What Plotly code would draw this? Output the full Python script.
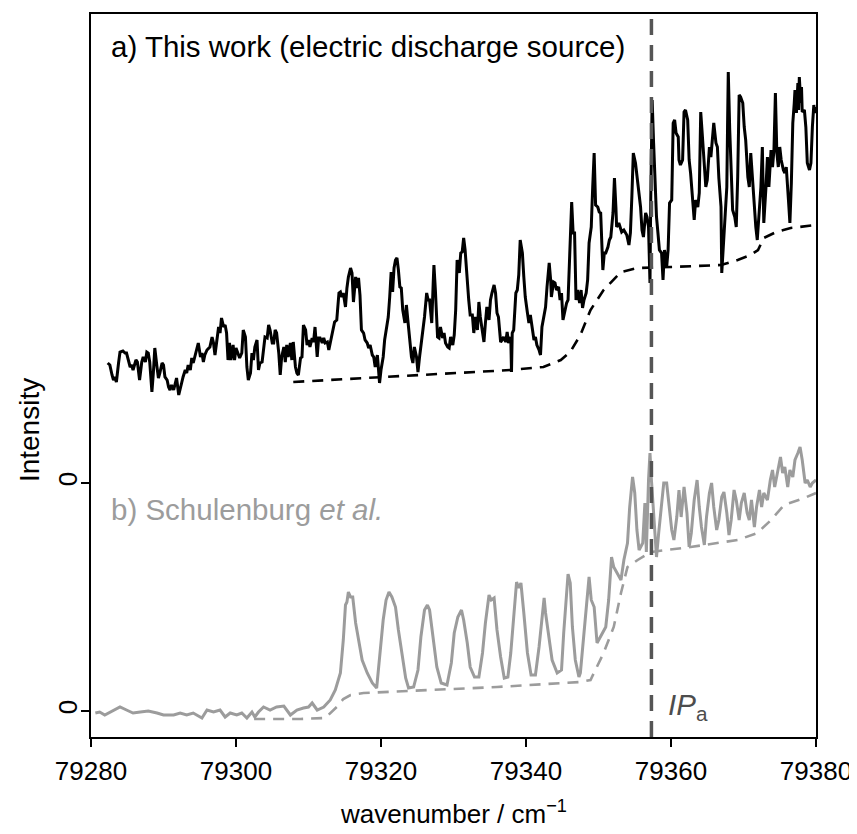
import plotly.graph_objects as go

# ---------------- data ----------------
# a) this work (intensity relative to its own zero; plotted with an offset)
wn_a = [79282.3, 79282.6, 79282.9, 79283.1, 79283.3, 79283.5, 79283.8, 79284.0, 79284.4, 79284.7,
        79284.9, 79285.2, 79285.4, 79285.6, 79285.8, 79286.2, 79286.4, 79286.7, 79287.0, 79287.2,
        79287.5, 79287.7, 79287.9, 79288.1, 79288.4, 79288.6, 79288.8, 79289.1, 79289.3, 79289.5,
        79289.8, 79290.0, 79290.2, 79290.5, 79290.7, 79290.9, 79291.1, 79291.4, 79291.6, 79291.8,
        79292.1, 79292.3, 79292.5, 79292.7, 79293.0, 79293.2, 79293.4, 79293.7, 79293.9, 79294.1,
        79294.4, 79294.6, 79294.8, 79295.1, 79295.3, 79295.5, 79295.7, 79296.0, 79296.2, 79296.4,
        79296.7, 79296.9, 79297.1, 79297.4, 79297.6, 79297.8, 79298.0, 79298.3, 79298.5, 79298.7,
        79298.9, 79299.1, 79299.3, 79299.6, 79299.8, 79300.0, 79300.3, 79300.5, 79300.8, 79301.0,
        79301.3, 79301.5, 79301.7, 79302.0, 79302.2, 79302.4, 79302.6, 79302.9, 79303.1, 79303.3,
        79303.6, 79303.8, 79304.0, 79304.3, 79304.5, 79304.7, 79305.0, 79305.2, 79305.4, 79305.6,
        79305.9, 79306.1, 79306.3, 79306.6, 79306.8, 79307.0, 79307.2, 79307.5, 79307.7, 79307.9,
        79308.2, 79308.4, 79308.6, 79308.9, 79309.1, 79309.3, 79309.6, 79309.8, 79310.0, 79310.2,
        79310.5, 79310.7, 79310.9, 79311.2, 79311.4, 79311.6, 79311.9, 79312.1, 79312.3, 79312.6,
        79312.8, 79313.0, 79313.2, 79313.6, 79313.9, 79314.2, 79314.4, 79314.6, 79314.8, 79315.1,
        79315.3, 79315.5, 79315.8, 79316.0, 79316.2, 79316.5, 79316.7, 79316.9, 79317.1, 79317.3,
        79317.6, 79317.8, 79318.1, 79318.3, 79318.5, 79318.8, 79319.0, 79319.2, 79319.5, 79319.7,
        79319.8, 79320.0, 79320.3, 79320.5, 79320.7, 79321.0, 79321.2, 79321.4, 79321.6, 79321.8,
        79322.0, 79322.2, 79322.4, 79322.6, 79322.8, 79323.0, 79323.3, 79323.5, 79323.7, 79324.0,
        79324.2, 79324.4, 79324.6, 79324.9, 79325.1, 79325.3, 79325.6, 79325.8, 79326.0, 79326.3,
        79326.5, 79326.7, 79327.0, 79327.2, 79327.3, 79327.5, 79327.8, 79328.0, 79328.2, 79328.5,
        79328.7, 79328.9, 79329.2, 79329.4, 79329.6, 79329.9, 79330.1, 79330.3, 79330.5, 79330.8,
        79331.0, 79331.2, 79331.4, 79331.6, 79331.9, 79332.1, 79332.3, 79332.6, 79332.8, 79333.0,
        79333.3, 79333.5, 79333.7, 79334.0, 79334.2, 79334.4, 79334.6, 79334.9, 79335.1, 79335.3,
        79335.6, 79335.8, 79336.0, 79336.2, 79336.5, 79336.7, 79336.9, 79337.2, 79337.4, 79337.6,
        79337.9, 79338.0, 79338.1, 79338.3, 79338.6, 79338.8, 79339.0, 79339.2, 79339.5, 79339.7,
        79339.9, 79340.2, 79340.4, 79340.6, 79340.9, 79341.1, 79341.3, 79341.5, 79341.8, 79342.0,
        79342.2, 79342.5, 79342.7, 79342.9, 79343.2, 79343.4, 79343.5, 79343.8, 79344.0, 79344.2,
        79344.5, 79344.7, 79344.9, 79345.1, 79345.4, 79345.6, 79345.8, 79346.1, 79346.3, 79346.5,
        79346.7, 79346.9, 79347.1, 79347.4, 79347.6, 79347.8, 79348.0, 79348.3, 79348.5, 79348.7,
        79349.0, 79349.2, 79349.4, 79349.6, 79349.9, 79350.1, 79350.3, 79350.6, 79350.8, 79351.0,
        79351.3, 79351.5, 79351.7, 79352.0, 79352.2, 79352.4, 79352.5, 79352.8, 79353.0, 79353.2,
        79353.5, 79353.7, 79353.9, 79354.2, 79354.4, 79354.6, 79354.8, 79355.1, 79355.3, 79355.5,
        79355.8, 79356.0, 79356.2, 79356.5, 79356.7, 79356.9, 79357.1, 79357.2, 79357.3, 79357.4,
        79357.6, 79357.8, 79358.0, 79358.2, 79358.4, 79358.7, 79358.9, 79359.1, 79359.4, 79359.6,
        79359.8, 79360.1, 79360.3, 79360.5, 79360.7, 79361.0, 79361.1, 79361.3, 79361.6, 79361.8,
        79362.0, 79362.3, 79362.5, 79362.7, 79363.0, 79363.2, 79363.4, 79363.7, 79363.9, 79364.1,
        79364.3, 79364.6, 79364.8, 79365.0, 79365.3, 79365.5, 79365.7, 79365.9, 79366.2, 79366.4,
        79366.6, 79366.9, 79367.0, 79367.2, 79367.5, 79367.7, 79367.8, 79367.9, 79368.1, 79368.3,
        79368.5, 79368.8, 79369.0, 79369.2, 79369.4, 79369.6, 79369.9, 79370.1, 79370.3, 79370.6,
        79370.8, 79371.0, 79371.2, 79371.5, 79371.7, 79371.9, 79372.2, 79372.4, 79372.6, 79372.8,
        79373.1, 79373.3, 79373.5, 79373.8, 79374.0, 79374.2, 79374.4, 79374.6, 79374.8, 79375.0,
        79375.2, 79375.5, 79375.7, 79375.9, 79376.2, 79376.4, 79376.6, 79376.8, 79377.0, 79377.1,
        79377.3, 79377.5, 79377.6, 79377.7, 79377.9, 79378.0, 79378.1, 79378.4, 79378.6, 79378.8,
        79379.1, 79379.3, 79379.5, 79379.7, 79379.8, 79380.0]
int_a = [120, 118, 108, 103, 106, 101, 120, 131, 132, 130,
         130, 123, 116, 118, 113, 123, 121, 103, 121, 126,
         121, 131, 130, 121, 91, 110, 135, 116, 105, 110,
         120, 118, 106, 103, 96, 93, 98, 93, 101, 105,
         88, 96, 100, 106, 113, 110, 118, 113, 125, 120,
         130, 136, 140, 126, 130, 121, 128, 133, 135, 136,
         146, 140, 128, 146, 156, 150, 165, 156, 158, 150,
         123, 140, 123, 138, 123, 135, 130, 125, 130, 153,
         146, 116, 103, 110, 130, 123, 136, 143, 113, 120,
         121, 136, 146, 145, 158, 153, 140, 140, 153, 150,
         130, 108, 126, 136, 121, 138, 126, 140, 123, 141,
         116, 110, 108, 125, 126, 158, 153, 138, 143, 136,
         145, 141, 156, 126, 145, 145, 140, 145, 140, 141,
         133, 140, 146, 161, 163, 190, 191, 186, 190, 176,
         195, 206, 215, 210, 181, 206, 195, 205, 188, 153,
         150, 143, 140, 135, 138, 128, 126, 116, 128, 106,
         100, 113, 126, 143, 153, 166, 186, 211, 191, 215,
         223, 225, 213, 196, 195, 173, 160, 178, 163, 140,
         126, 120, 136, 126, 111, 125, 143, 150, 166, 190,
         183, 183, 160, 200, 218, 193, 146, 145, 156, 145,
         150, 140, 136, 135, 146, 138, 148, 173, 223, 210,
         230, 231, 245, 233, 200, 183, 168, 168, 150, 166,
         153, 181, 166, 153, 141, 160, 176, 163, 183, 190,
         198, 190, 170, 166, 141, 143, 146, 141, 151, 140,
         146, 111, 150, 153, 190, 193, 208, 243, 230, 206,
         186, 170, 160, 168, 153, 143, 146, 138, 133, 128,
         156, 170, 176, 196, 220, 203, 186, 201, 200, 193,
         196, 183, 190, 163, 173, 180, 183, 236, 281, 250,
         250, 183, 193, 180, 193, 175, 183, 190, 203, 240,
         256, 296, 330, 278, 276, 271, 270, 213, 230, 230,
         236, 243, 246, 270, 305, 276, 256, 260, 256, 251,
         253, 250, 248, 238, 250, 286, 330, 320, 306, 293,
         276, 253, 246, 270, 266, 256, 200, 280, 336, 383,
         340, 306, 266, 250, 233, 230, 203, 233, 216, 233,
         280, 283, 360, 363, 350, 346, 323, 318, 323, 371,
         373, 363, 323, 310, 276, 263, 283, 276, 290, 371,
         350, 310, 296, 303, 336, 326, 340, 360, 340, 336,
         305, 276, 210, 233, 263, 296, 356, 411, 353, 316,
         273, 266, 256, 306, 388, 386, 380, 356, 343, 306,
         296, 330, 306, 270, 256, 243, 276, 296, 336, 260,
         296, 326, 296, 333, 316, 333, 390, 330, 316, 336,
         323, 313, 310, 316, 283, 260, 300, 360, 380, 393,
         370, 400, 373, 406, 380, 396, 371, 373, 356, 320,
         313, 320, 356, 378, 370, 376]

# a) fitted baseline (dashed)
wn_a_base = [79307.9, 79313.0, 79319.9, 79329.6, 79337.9, 79342.4, 79344.8, 79346.1, 79347.5, 79348.9,
             79350.7, 79353.1, 79355.4, 79360.0, 79366.9, 79369.2, 79371.0, 79372.0, 79372.8, 79374.5,
             79376.5, 79380.0]
int_a_base = [101, 103, 106, 110, 113, 116, 123, 131, 148, 173,
              193, 211, 215, 216, 218, 223, 228, 233, 245, 251,
              255, 258]

# b) Schulenburg et al.
wn_b = [79280.6, 79281.2, 79281.9, 79283.1, 79284.0, 79284.9, 79285.8, 79286.8, 79287.9, 79289.1,
        79290.0, 79291.4, 79292.3, 79293.2, 79294.1, 79295.3, 79296.0, 79296.9, 79297.8, 79298.5,
        79299.2, 79300.1, 79300.8, 79301.5, 79302.2, 79302.6, 79303.1, 79303.8, 79304.7, 79305.6,
        79306.6, 79307.5, 79308.4, 79309.3, 79310.0, 79310.5, 79311.2, 79312.1, 79313.0, 79313.7,
        79314.2, 79314.4, 79314.8, 79315.1, 79315.3, 79315.5, 79315.8, 79316.1, 79316.5, 79316.9,
        79317.4, 79318.1, 79318.8, 79319.4, 79319.8, 79320.3, 79320.7, 79321.1, 79321.5, 79322.0,
        79322.4, 79322.9, 79323.4, 79323.8, 79324.5, 79325.1, 79325.5, 79326.0, 79326.4, 79326.7,
        79327.2, 79327.7, 79328.3, 79329.1, 79329.7, 79330.1, 79330.6, 79331.1, 79331.4, 79331.9,
        79332.3, 79332.9, 79333.5, 79334.0, 79334.4, 79334.9, 79335.2, 79335.6, 79336.0, 79336.5,
        79337.0, 79337.5, 79337.9, 79338.3, 79338.7, 79339.0, 79339.3, 79339.7, 79340.2, 79340.7,
        79341.3, 79341.8, 79342.2, 79342.5, 79342.7, 79343.2, 79343.6, 79344.3, 79344.9, 79345.2,
        79345.6, 79345.8, 79346.1, 79346.4, 79346.8, 79347.3, 79347.5, 79348.0, 79348.5, 79348.7,
        79349.0, 79349.4, 79349.8, 79350.5, 79351.0, 79351.4, 79351.8, 79352.1, 79352.6, 79353.1,
        79353.5, 79354.0, 79354.3, 79354.7, 79355.0, 79355.3, 79355.6, 79356.1, 79356.4, 79356.6,
        79356.9, 79357.1, 79357.3, 79357.7, 79358.0, 79358.3, 79358.7, 79359.0, 79359.4, 79359.7,
        79360.1, 79360.4, 79360.8, 79361.1, 79361.4, 79361.8, 79362.2, 79362.5, 79362.8, 79363.2,
        79363.6, 79363.9, 79364.2, 79364.6, 79364.9, 79365.3, 79365.6, 79365.9, 79366.3, 79366.6,
        79367.0, 79367.3, 79367.7, 79368.0, 79368.3, 79368.7, 79369.0, 79369.4, 79369.7, 79370.1,
        79370.5, 79370.8, 79371.1, 79371.5, 79371.8, 79372.2, 79372.5, 79372.8, 79373.3, 79373.7,
        79374.0, 79374.3, 79374.7, 79375.1, 79375.4, 79375.7, 79376.1, 79376.4, 79376.8, 79377.1,
        79377.5, 79377.8, 79378.1, 79378.5, 79378.8, 79379.2, 79379.5, 79380.0]
int_b = [-2, -1, -4, 1, 4, 1, -2, -1, 0, -2,
         -4, -4, -2, -4, -2, -7, 1, -1, 1, -6,
         -2, -4, -2, -7, -1, -6, -1, 4, 1, 4,
         5, -4, 1, 3, 4, 8, 1, 4, 11, 21,
         34, 38, 71, 106, 109, 119, 114, 114, 88, 71,
         51, 38, 28, 23, 54, 91, 111, 119, 114, 104,
         81, 58, 33, 23, 24, 41, 74, 101, 106, 101,
         74, 44, 28, 26, 48, 78, 94, 101, 91, 68,
         44, 34, 34, 58, 88, 116, 111, 113, 81, 54,
         33, 34, 58, 98, 129, 123, 128, 98, 58, 36,
         36, 64, 94, 113, 98, 74, 51, 38, 41, 78,
         118, 137, 128, 84, 51, 34, 38, 78, 118, 134,
         111, 104, 68, 78, 84, 111, 154, 144, 138, 131,
         151, 168, 204, 234, 218, 181, 161, 168, 208, 159,
         231, 258, 231, 181, 154, 178, 204, 228, 228, 208,
         181, 171, 194, 221, 194, 224, 198, 164, 178, 211,
         231, 204, 184, 166, 194, 218, 228, 204, 181, 191,
         214, 219, 198, 176, 191, 221, 211, 191, 208, 218,
         198, 191, 211, 184, 204, 221, 204, 218, 211, 231,
         241, 224, 241, 254, 238, 244, 224, 241, 234, 251,
         258, 264, 251, 228, 231, 224, 228, 231]

# b) fitted baseline (dashed)
wn_b_base = [79302.5, 79308.9, 79312.3, 79313.0, 79313.9, 79314.8, 79315.8, 79317.6, 79326.8, 79336.0,
             79345.2, 79347.5, 79348.9, 79350.7, 79352.1, 79353.1, 79354.0, 79355.4, 79357.2, 79362.7,
             79369.2, 79371.9, 79373.8, 79375.6, 79378.4, 79380.0]
int_b_base = [-8, -8, -7, -2, 4, 12, 16, 18, 21, 24,
              28, 29, 31, 58, 84, 118, 144, 151, 159, 164,
              171, 178, 191, 206, 213, 218]

OFFSET_A = 228            # vertical offset of spectrum a)
IP_A = 79357.3            # adiabatic ionisation potential (cm^-1)
x_ticks = [79280, 79300, 79320, 79340, 79360, 79380]
y_ticks = [0, OFFSET_A]
y_ticklabels = ["0", "0"]

FONT = "Liberation Sans, Arial, Helvetica, sans-serif"
GREY_B = "#9c9c9c"
GREY_IP = "#555555"

fig = go.Figure()

fig.add_trace(go.Scatter(x=wn_b_base, y=int_b_base, mode="lines",
                         line=dict(color=GREY_B, width=2.6, dash="11px,8px"),
                         hoverinfo="skip", showlegend=False))
fig.add_trace(go.Scatter(x=wn_b, y=int_b, mode="lines",
                         line=dict(color=GREY_B, width=3),
                         showlegend=False))
fig.add_trace(go.Scatter(x=wn_a_base, y=[v + OFFSET_A for v in int_a_base], mode="lines",
                         line=dict(color="black", width=2.6, dash="11px,8px"),
                         hoverinfo="skip", showlegend=False))
fig.add_trace(go.Scatter(x=wn_a, y=[v + OFFSET_A for v in int_a], mode="lines",
                         line=dict(color="black", width=3),
                         showlegend=False))

fig.add_shape(type="line", xref="x", yref="paper", x0=IP_A, x1=IP_A, y0=0, y1=1,
              line=dict(color=GREY_IP, width=3.5, dash="16px,10px"))

fig.add_annotation(text="a) This work (electric discharge source)", xref="paper", yref="paper",
                   x=0.025, y=0.955, xanchor="left", yanchor="middle", showarrow=False,
                   font=dict(family=FONT, size=29.5, color="black"))
fig.add_annotation(text="b) Schulenburg <i>et al.</i>", xref="paper", yref="paper",
                   x=0.025, y=0.315, xanchor="left", yanchor="middle", showarrow=False,
                   font=dict(family=FONT, size=29.5, color=GREY_B))
fig.add_annotation(text="<i>IP</i><sub>a</sub>", xref="paper", yref="paper",
                   x=0.793, y=0.042, xanchor="left", yanchor="middle", showarrow=False,
                   font=dict(family=FONT, size=29.5, color="#4d4d4d"))
fig.add_annotation(text="wavenumber / cm<sup>\u22121</sup>", xref="paper", yref="paper",
                   x=0.5, y=-0.104, xanchor="center", yanchor="middle", showarrow=False,
                   font=dict(family=FONT, size=26, color="black"))
fig.add_annotation(text="Intensity", xref="paper", yref="paper", textangle=-90,
                   x=-0.085, y=0.425, xanchor="center", yanchor="middle", showarrow=False,
                   font=dict(family=FONT, size=28, color="black"))

# the page body adds an 8px offset; margins compensate so the plot box sits where the reference has it
fig.update_layout(
    width=857, height=826,
    margin=dict(l=83, r=49, t=6, b=97, autoexpand=False),
    paper_bgcolor="white", plot_bgcolor="white",
    font=dict(family=FONT, color="black"),
    xaxis=dict(range=[79280, 79380], tickvals=x_ticks, ticktext=[str(t) for t in x_ticks],
               ticks="outside", ticklen=8, tickwidth=1.5, tickcolor="black",
               showline=True, linecolor="black", linewidth=1.5, mirror=True,
               showgrid=False, zeroline=False, ticklabelstandoff=2, automargin=False,
               ticklabeloverflow="allow",
               tickfont=dict(family=FONT, size=26, color="black")),
    yaxis=dict(range=[-26, 697], tickvals=y_ticks, ticktext=y_ticklabels,
               ticks="outside", ticklen=8, tickwidth=1.5, tickcolor="black",
               showline=True, linecolor="black", linewidth=1.5, mirror=True,
               showgrid=False, zeroline=False, tickangle=-90, automargin=False,
               ticklabelstandoff=-6,
               tickfont=dict(family=FONT, size=26, color="black")),
)

fig.write_html("out.html")
